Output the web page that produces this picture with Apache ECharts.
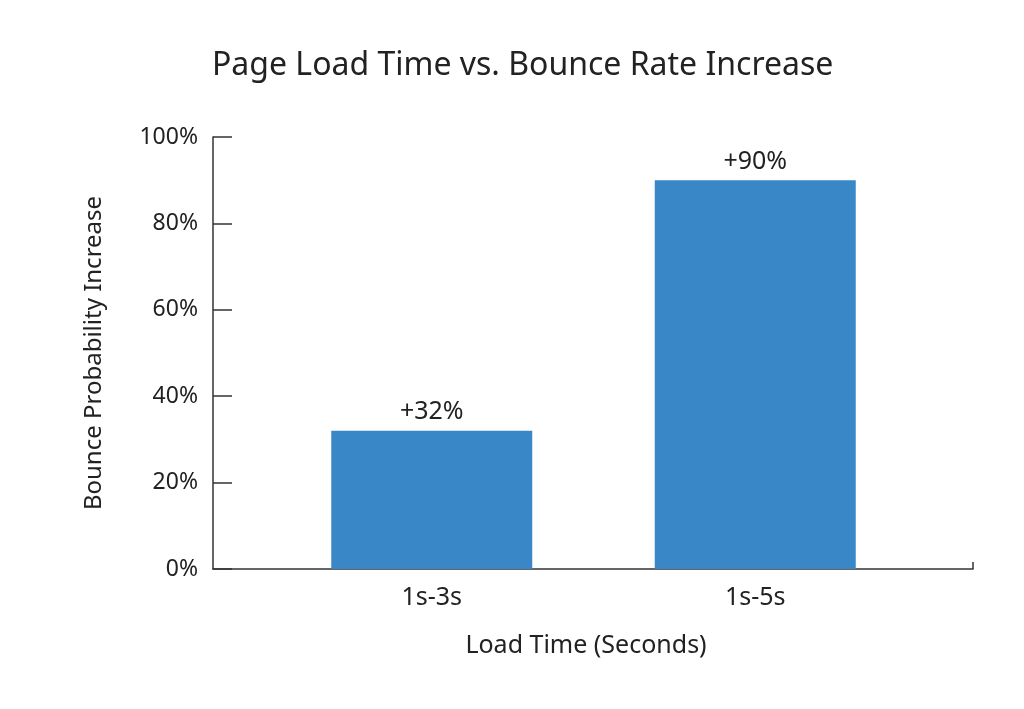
<!DOCTYPE html>
<html>
<head>
<meta charset="utf-8">
<script src="https://cdn.jsdelivr.net/npm/echarts@6/dist/echarts.min.js"></script>
<style>
  html, body { margin: 0; padding: 0; background: #ffffff; }
  #main { width: 1024px; height: 709px; }
</style>
</head>
<body>
<div id="main"></div>
<script>
// chart data
var categories = ['1s-3s', '1s-5s'];
var bounceIncrease = [32, 90];
var yTicks = [0, 20, 40, 60, 80, 100];

var FONT = 'Noto Sans';
var TEXT = '#222222';
var LINE = '#333333';

var chart = echarts.init(document.getElementById('main'));

var option = {
  backgroundColor: '#ffffff',
  animation: false,
  title: {
    text: 'Page Load Time vs. Bounce Rate Increase',
    left: 207,
    top: 45,
    textStyle: { fontFamily: FONT, fontSize: 32, fontWeight: 'normal', color: TEXT }
  },
  grid: [
    // grid 0: frame with y axis and the long x axis line
    { left: 213, right: 51, top: 137, bottom: 140 },
    // grid 1: the bars, narrower so the categories sit like the original
    { left: 270, right: 107, top: 137, bottom: 140 }
  ],
  xAxis: [
    {
      gridIndex: 0,
      type: 'value',
      min: 0,
      max: 1,
      axisLine: { show: true, lineStyle: { color: LINE, width: 1.5 } },
      axisTick: { show: false },
      axisLabel: { show: false },
      splitLine: { show: false },
      name: 'Load Time (Seconds)',
      nameLocation: 'middle',
      nameGap: 64,
      nameTextStyle: { fontFamily: FONT, fontSize: 25, color: TEXT, padding: [0, 14, 0, 0] }
    },
    {
      gridIndex: 1,
      type: 'category',
      data: categories,
      axisLine: { show: false },
      axisTick: { show: false },
      axisLabel: { fontFamily: FONT, fontSize: 25, color: TEXT, margin: 16 }
    }
  ],
  yAxis: [
    {
      gridIndex: 0,
      type: 'value',
      min: yTicks[0],
      max: yTicks[yTicks.length - 1],
      interval: 20,
      axisLine: { show: true, lineStyle: { color: LINE, width: 1.5 } },
      axisTick: { show: true, inside: true, length: 19, lineStyle: { color: LINE, width: 1.5 } },
      axisLabel: {
        fontFamily: FONT, fontSize: 23, color: TEXT, margin: 15,
        formatter: function (v) { return v + '%'; }
      },
      splitLine: { show: false },
      name: 'Bounce Probability Increase',
      nameLocation: 'middle',
      nameGap: 107,
      nameRotate: 90,
      nameTextStyle: { fontFamily: FONT, fontSize: 24, color: TEXT }
    },
    {
      gridIndex: 1,
      type: 'value',
      min: yTicks[0],
      max: yTicks[yTicks.length - 1],
      show: false
    }
  ],
  series: [
    {
      type: 'bar',
      xAxisIndex: 1,
      yAxisIndex: 1,
      data: bounceIncrease,
      barWidth: 201,
      itemStyle: { color: '#3a87c8' },
      label: {
        show: true,
        position: 'top',
        distance: 6,
        fontFamily: FONT,
        fontSize: 25,
        color: TEXT,
        formatter: function (p) { return '+' + p.value + '%'; }
      }
    }
  ],
  graphic: []
};

chart.setOption(option);

// small upward tick at the right end of the x axis line
var end = chart.convertToPixel({ gridIndex: 0 }, [1, 0]);
chart.setOption({
  graphic: [{
    type: 'line',
    shape: { x1: end[0], y1: end[1], x2: end[0], y2: end[1] - 7 },
    style: { stroke: LINE, lineWidth: 1.5 }
  }]
});
</script>
</body>
</html>
